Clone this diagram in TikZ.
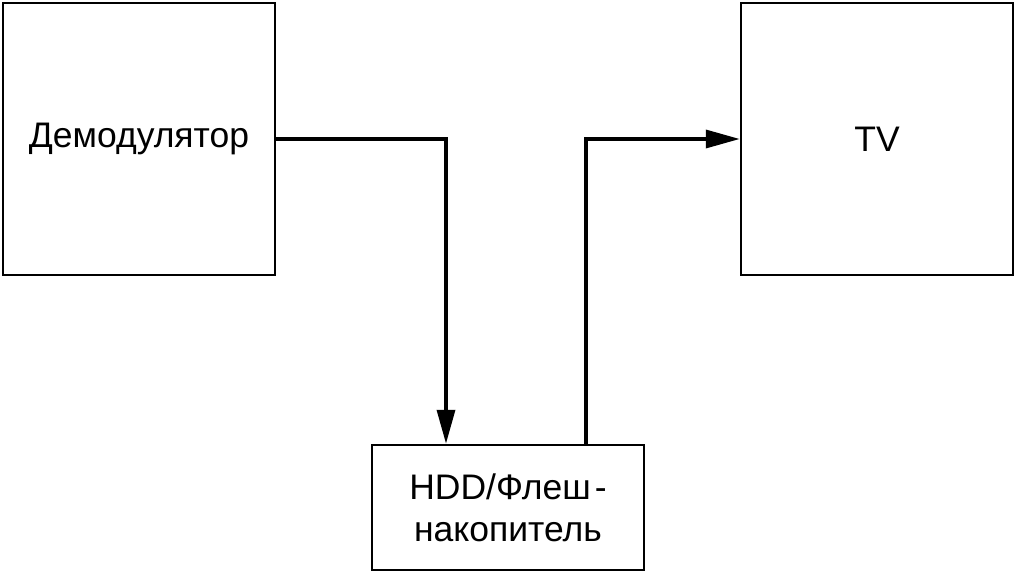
\documentclass[tikz,border=0pt]{standalone}
\usepackage{fontspec}
\setmainfont{Liberation Sans}
\usetikzlibrary{arrows.meta}
\begin{document}
\begin{tikzpicture}[x=1pt,y=-1pt,
  blk/.style={draw, line width=2.5pt, inner sep=0pt, minimum width=272pt,
    align=center, font=\fontsize{35.5}{42}\selectfont},
  conn/.style={line width=3.5pt, -{Triangle[length=34pt,width=18pt]}}]
\useasboundingbox (0,0) rectangle (1018,575);
\node[blk, minimum height=272pt] (dem) at (139,139) {Демодулятор};
\node[blk, minimum height=272pt] (tv) at (877,139) {TV};
\node[blk, minimum height=125pt] (hdd) at (508,507.5) {HDD/Флеш\hspace{4pt}-\\накопитель};
\draw[conn] (dem.east) -| ([xshift=-62pt]hdd.north);
\draw[conn] ([xshift=78pt]hdd.north) |- (tv.west);
\end{tikzpicture}
\end{document}
